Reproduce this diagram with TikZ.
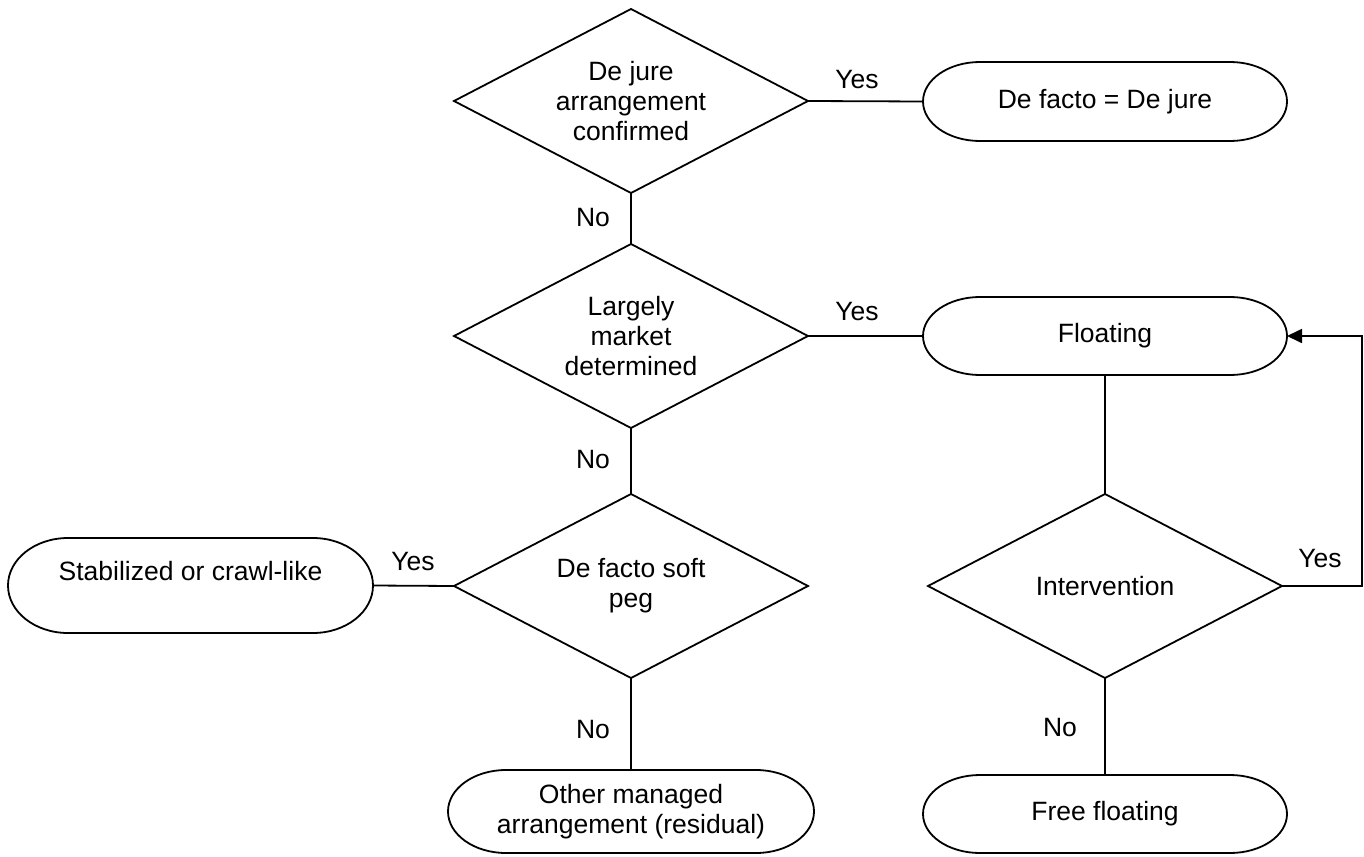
\documentclass[tikz,border=0pt]{standalone}
\usepackage{fontspec}
\setmainfont{Liberation Sans}
\usetikzlibrary{shapes.geometric,arrows.meta}
\newcommand\termoutline[3]{%
  \draw[line width=1.8pt] ([xshift=#2]#1.north west) -- ([xshift=-#2]#1.north east)
    arc[start angle=90,end angle=-90,x radius=#2,y radius=#3]
    -- ([xshift=#2]#1.south west)
    arc[start angle=270,end angle=90,x radius=#2,y radius=#3] -- cycle;}
\begin{document}
\begin{tikzpicture}[x=1pt,y=-1pt,
  every node/.style={font=\fontsize{26.5}{30}\selectfont, text=black},
  dec/.style={diamond, draw, line width=1.8pt, inner sep=0pt, outer sep=0pt,
    aspect=1.92, minimum width=354pt, minimum height=184pt, align=center},
  term/.style={rectangle, draw=none, inner sep=0pt, outer sep=0pt, align=center},
  conn/.style={line width=1.8pt},
  lbl/.style={inner sep=0pt}]
\useasboundingbox (0,0) rectangle (1364,856);
% decisions
\node[dec] (d1) at (631,101) {De jure\\arrangement\\confirmed};
\node[dec] (d2) at (631,336) {Largely\\market\\determined};
\node[dec] (d3) at (631,586) {De facto soft\\peg};
\node[dec] (d4) at (1105,586) {Intervention};
% terminals
\node[term, minimum width=364pt, minimum height=79pt] (t1) at (1105,101.5) {De facto = De jure};
\termoutline{t1}{57pt}{39.5pt}
\node[term, minimum width=364pt, minimum height=78pt] (fl) at (1105,336) {Floating};
\termoutline{fl}{57pt}{39pt}
\node[term, minimum width=365pt, minimum height=95pt] (st) at (190.5,585.5) {Stabilized or crawl-like\\~};
\termoutline{st}{60pt}{47.5pt}
\node[term, minimum width=366pt, minimum height=83pt] (om) at (631,811.5) {Other managed\\arrangement (residual)};
\termoutline{om}{58pt}{41.5pt}
\node[term, minimum width=364pt, minimum height=78pt] (ff) at (1105,814) {Free floating};
\termoutline{ff}{57pt}{39pt}
% connectors
\draw[conn] (d1.east) -- (t1.west);
\draw[conn] (d1.south) -- (d2.north);
\draw[conn] (d2.east) -- (fl.west);
\draw[conn] (d2.south) -- (d3.north);
\draw[conn] (d3.west) -- (st.east);
\draw[conn] (d3.south) -- (om.north);
\draw[conn] (fl.south) -- (d4.north);
\draw[conn] (d4.south) -- (ff.north);
\coordinate (loop) at (1362,586);
\draw[conn, -{Triangle[length=15pt,width=14pt]}] (d4.east) -- (loop) |- (fl.east);
% labels
\node[lbl] (y1) at (857,80) {Yes};
\node[lbl] (n1) at (593,218) {No};
\node[lbl] (y2) at (857,312) {Yes};
\node[lbl] (n2) at (593,460) {No};
\node[lbl] (y3) at (413,562) {Yes};
\node[lbl] (n3) at (593,730) {No};
\node[lbl] (y4) at (1320,559) {Yes};
\node[lbl] (n4) at (1060,728) {No};
\end{tikzpicture}
\end{document}
